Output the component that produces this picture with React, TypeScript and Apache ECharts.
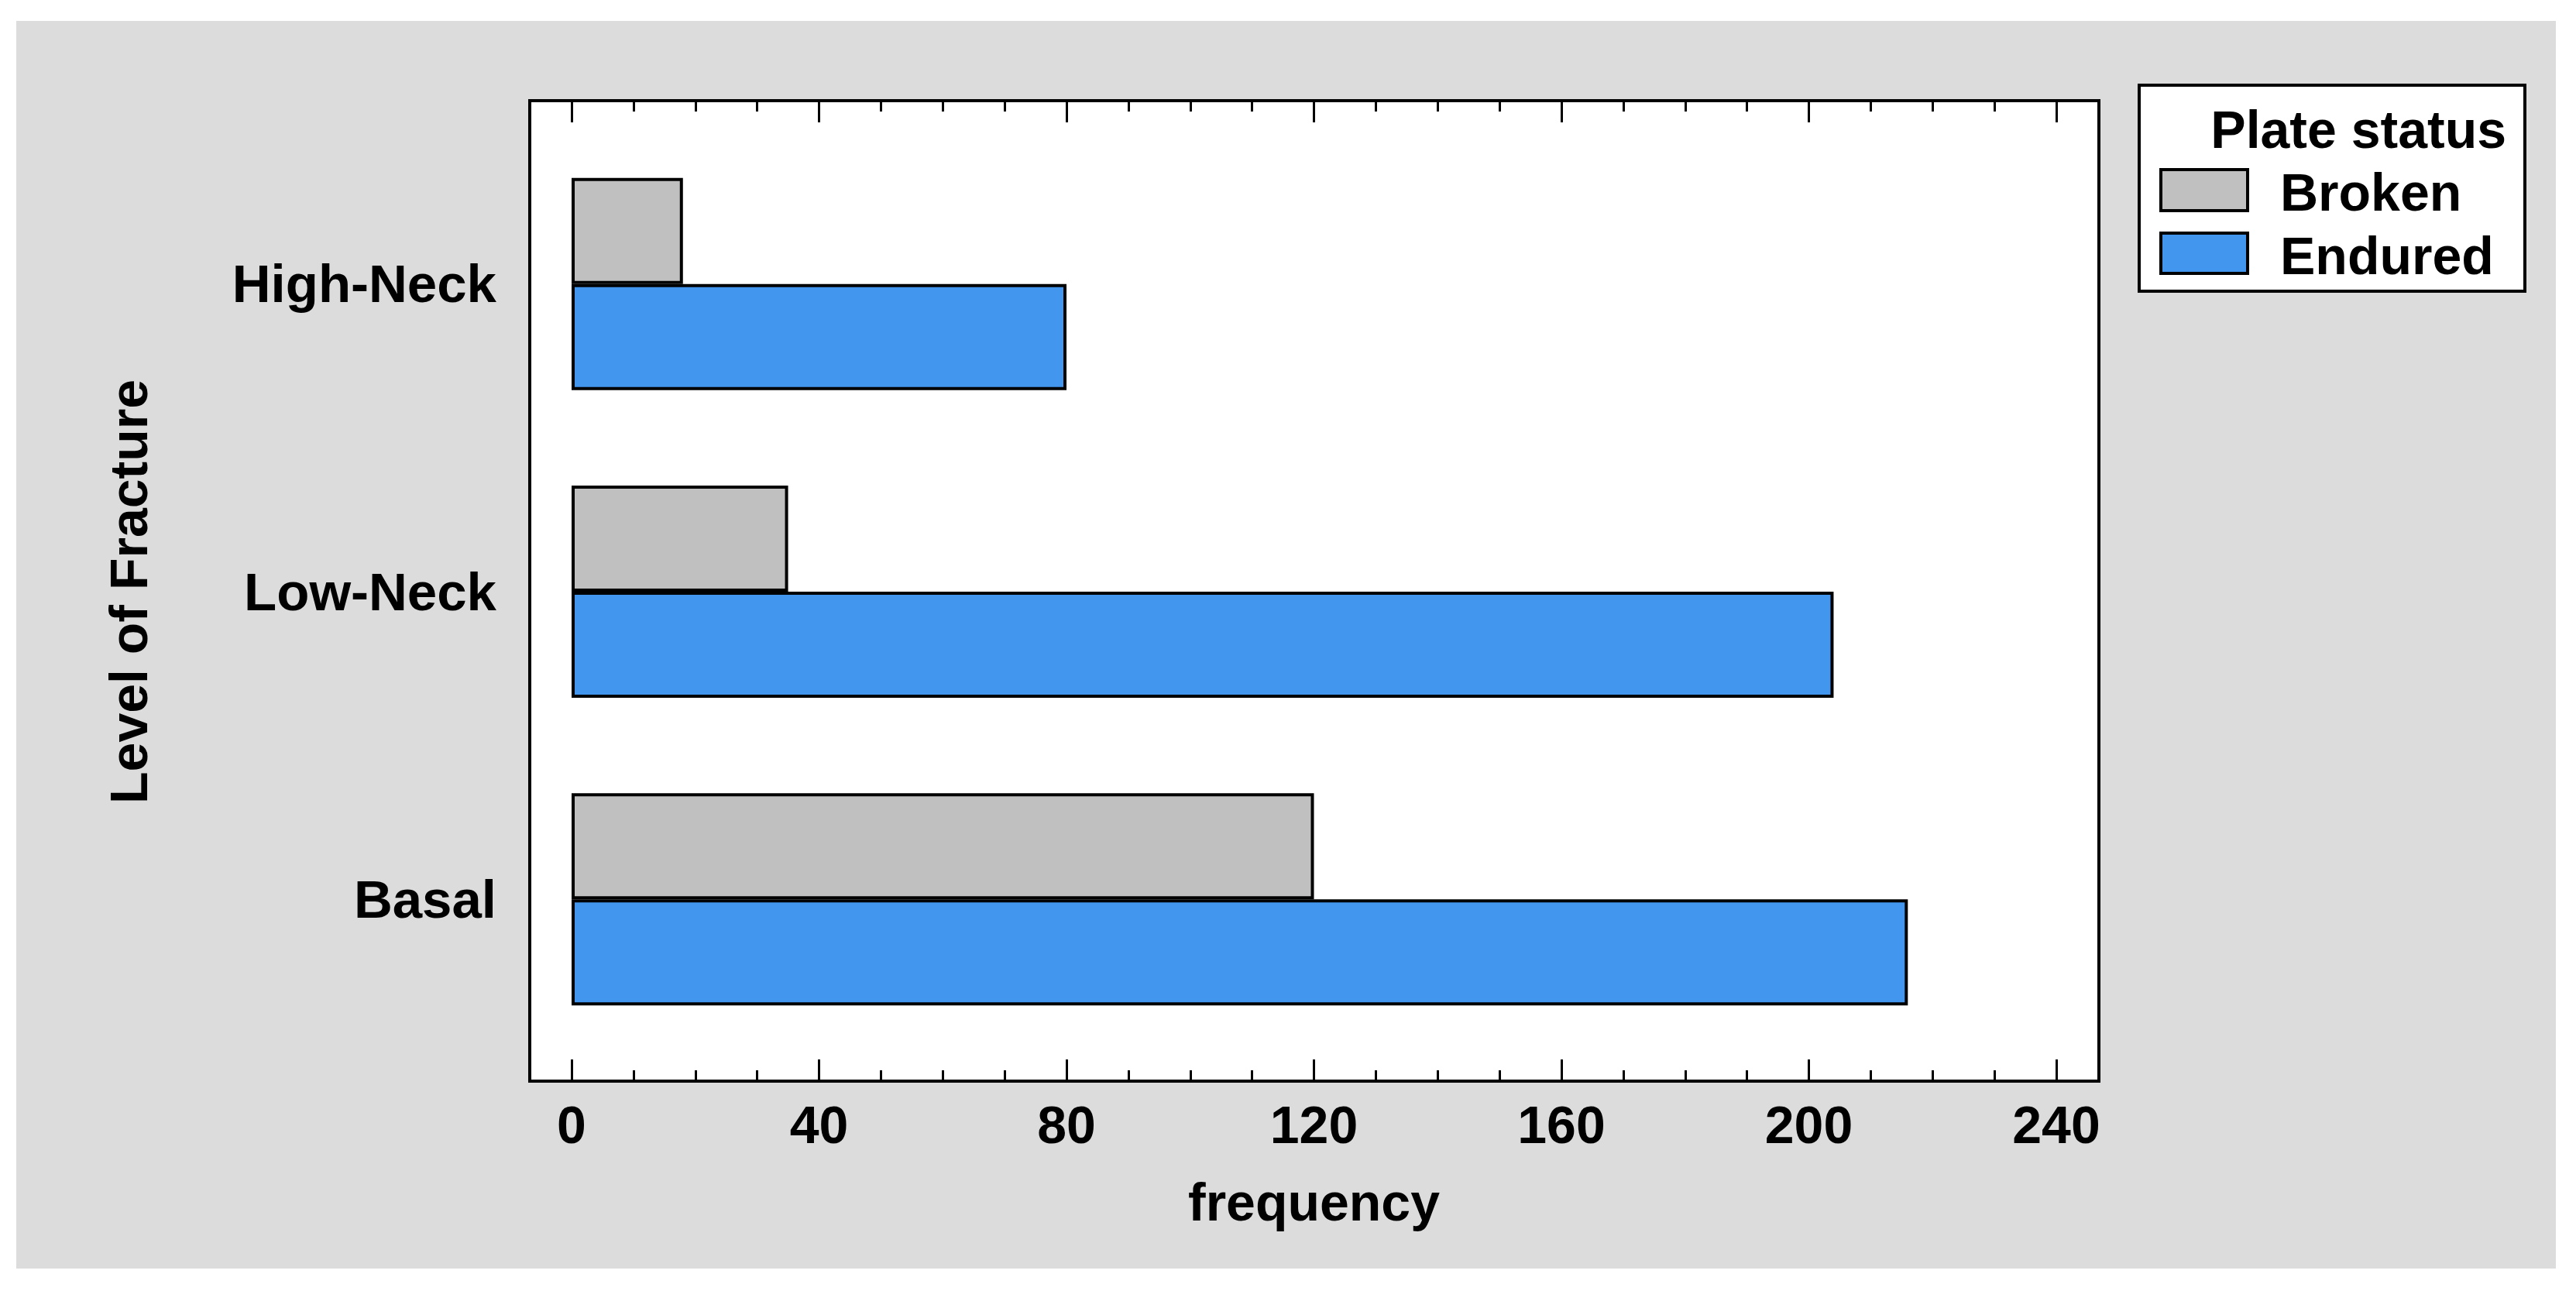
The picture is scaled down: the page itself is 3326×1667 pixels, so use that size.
import React, { useEffect, useRef } from "react";
import * as echarts from "echarts";

const categories = ["Basal", "Low-Neck", "High-Neck"];
const brokenValues = [120, 35, 18];
const enduredValues = [216, 204, 80];
const seriesNames = ["Broken", "Endured"];
const xMin = 0;
const xMax = 240;
const xInterval = 40;
const xAxisTitle = "frequency";
const yAxisTitle = "Level of Fracture";
const legendTitle = "Plate status";

const FONT = "'Liberation Sans', Arial, sans-serif";
const GRAY = "#C0C0C0";
const BLUE = "#4296EE";

export default function App() {
  const ref = useRef<HTMLDivElement>(null);
  useEffect(() => {
    if (!ref.current) return;
    const chart = echarts.init(ref.current, null, { renderer: "svg" });
    const tickStyle = { color: "#000", width: 3 };
    const baseX = {
      type: "value",
      min: xMin,
      max: xMax,
      interval: xInterval,
      axisLine: { show: false },
      splitLine: { show: false },
      minorSplitLine: { show: false },
      axisTick: { show: true, inside: true, length: 28, lineStyle: tickStyle },
      minorTick: { show: true, splitNumber: 4, length: 14, lineStyle: tickStyle },
    };
    chart.setOption({
      animation: false,
      backgroundColor: "#ffffff",
      textStyle: { fontFamily: FONT },
      grid: { left: 738, right: 3326 - 2655, top: 168, bottom: 1667 - 1360, containLabel: false },
      xAxis: [
        {
          ...baseX,
          position: "bottom",
          offset: 36,
          axisLabel: { show: true, fontSize: 68, fontWeight: "bold", color: "#000", margin: 22, fontFamily: FONT },
          name: xAxisTitle,
          nameLocation: "middle",
          nameGap: 122,
          nameTextStyle: { fontSize: 68, fontWeight: "bold", color: "#000", fontFamily: FONT },
        },
        {
          ...baseX,
          position: "top",
          offset: 38,
          axisLabel: { show: false },
        },
      ],
      yAxis: {
        type: "category",
        data: categories,
        axisLine: { show: false },
        axisTick: { show: false },
        splitLine: { show: false },
        axisLabel: { fontSize: 69, fontWeight: "bold", color: "#000", margin: 97, fontFamily: FONT },
        name: yAxisTitle,
        nameLocation: "middle",
        nameRotate: 90,
        nameGap: 538,
        nameTextStyle: { fontSize: 68, fontWeight: "bold", color: "#000", fontFamily: FONT },
      },
      series: [
        {
          name: seriesNames[0],
          type: "bar",
          xAxisIndex: 0,
          data: brokenValues,
          barWidth: 137,
          barGap: "0%",
          itemStyle: { color: GRAY, borderColor: "#000", borderWidth: 4 },
          z: 3,
        },
        {
          name: seriesNames[1],
          type: "bar",
          xAxisIndex: 0,
          data: enduredValues,
          barWidth: 137,
          barGap: "0%",
          itemStyle: { color: BLUE, borderColor: "#000", borderWidth: 4 },
          z: 3,
        },
      ],
      graphic: [
        {
          type: "rect",
          z: -20,
          silent: true,
          shape: { x: 21, y: 27, width: 3279, height: 1611 },
          style: { fill: "#DCDCDC" },
        },
        {
          type: "rect",
          z: -10,
          silent: true,
          shape: { x: 684, y: 130, width: 2026, height: 1266 },
          style: { fill: "#ffffff" },
        },
        {
          type: "rect",
          z: 10,
          silent: true,
          shape: { x: 684, y: 130, width: 2026, height: 1266 },
          style: { fill: "none", stroke: "#000", lineWidth: 4 },
        },
        {
          type: "rect",
          z: 10,
          silent: true,
          shape: { x: 2762, y: 110, width: 498, height: 266 },
          style: { fill: "#ffffff", stroke: "#000", lineWidth: 4 },
        },
        {
          type: "text",
          z: 11,
          silent: true,
          x: 3236,
          y: 167,
          style: {
            text: legendTitle,
            fontSize: 68,
            fontWeight: "bold",
            fontFamily: FONT,
            fill: "#000",
            align: "right",
            verticalAlign: "middle",
          },
        },
        {
          type: "rect",
          z: 11,
          silent: true,
          shape: { x: 2790, y: 219, width: 112, height: 53 },
          style: { fill: GRAY, stroke: "#000", lineWidth: 4 },
        },
        {
          type: "text",
          z: 11,
          silent: true,
          x: 2944,
          y: 248,
          style: {
            text: seriesNames[0],
            fontSize: 68,
            fontWeight: "bold",
            fontFamily: FONT,
            fill: "#000",
            align: "left",
            verticalAlign: "middle",
          },
        },
        {
          type: "rect",
          z: 11,
          silent: true,
          shape: { x: 2790, y: 301, width: 112, height: 52 },
          style: { fill: BLUE, stroke: "#000", lineWidth: 4 },
        },
        {
          type: "text",
          z: 11,
          silent: true,
          x: 2944,
          y: 330,
          style: {
            text: seriesNames[1],
            fontSize: 68,
            fontWeight: "bold",
            fontFamily: FONT,
            fill: "#000",
            align: "left",
            verticalAlign: "middle",
          },
        },
      ],
    });
    return () => chart.dispose();
  }, []);
  return (
    <div
      ref={ref}
      style={{ position: "fixed", left: 0, top: 0, width: 3326, height: 1667 }}
    />
  );
}
